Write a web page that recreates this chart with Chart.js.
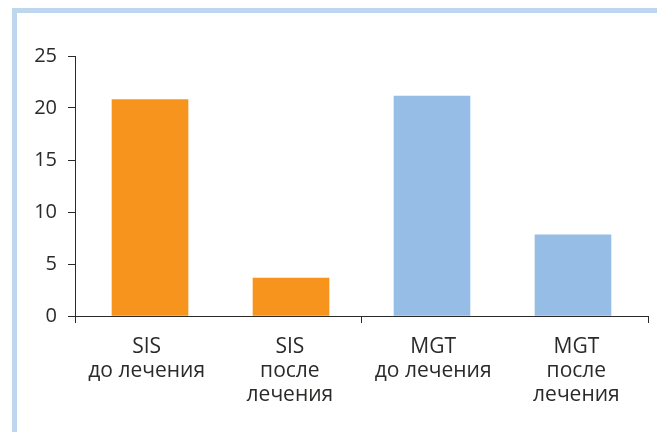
<!DOCTYPE html>
<html>
<head>
<meta charset="utf-8">
<script src="https://cdn.jsdelivr.net/npm/chart.js@4/dist/chart.umd.min.js"></script>
<style>
  html, body { margin: 0; padding: 0; background: #fff; }
  #frame {
    position: absolute; left: 12px; top: 8px;
    width: 640px; height: 419px;
    border-top: 5px solid #bdd7ee; border-left: 5px solid #bdd7ee;
  }
  canvas { display: block; }
</style>
</head>
<body>
<div id="frame"><canvas id="chart" width="640" height="419"></canvas></div>
<script>
  // values
  const categories = [
    ["SIS", "до лечения"],
    ["SIS", "после", "лечения"],
    ["MGT", "до лечения"],
    ["MGT", "после", "лечения"]
  ];
  const values = [20.8, 3.65, 21.15, 7.8];
  const barColors = ["#f7941d", "#f7941d", "#95bde5", "#95bde5"];
  const yTicks = [0, 5, 10, 15, 20, 25];

  const ink = "#2b2a29";
  const font = { family: "'Open Sans', sans-serif", size: 20 };

  new Chart(document.getElementById("chart"), {
    type: "bar",
    data: {
      labels: categories,
      datasets: [
        {
          xAxisID: "xb",
          data: values.map((v, i) => ({ x: i, y: v })),
          backgroundColor: barColors,
          borderWidth: 0,
          barThickness: 76,
        },
      ],
    },
    options: {
      responsive: false,
      animation: false,
      layout: { padding: { top: 43, right: 9, left: 0, bottom: 0 } },
      plugins: { legend: { display: false }, tooltip: { enabled: false } },
      scales: {
        // bars sit a little inside the drawn axis, so they use their own hidden axis
        xb: {
          type: "linear",
          display: false,
          offset: false,
          min: -0.532,
          max: 3.532,
        },
        x: {
          type: "category",
          offset: true,
          grid: {
            offset: true,
            drawOnChartArea: false,
            tickLength: 7,
            color: (ctx) => (ctx.index === 1 || ctx.index === 3 ? "rgba(0,0,0,0)" : ink),
          },
          border: { display: true, color: ink, width: 1 },
          ticks: { color: ink, font: { family: font.family, size: 21, lineHeight: 1.15 }, padding: 12, maxRotation: 0 },
          afterFit: (scale) => { scale.height = 116; },
        },
        y: {
          min: 0,
          max: 25,
          afterBuildTicks: (scale) => {
            scale.ticks = yTicks.map((v) => ({ value: v }));
          },
          grid: { drawOnChartArea: false, tickLength: 7, color: ink },
          border: { display: true, color: ink, width: 1 },
          ticks: { color: ink, font: font, padding: 11 },
          afterFit: (scale) => { scale.width = 58; },
        },
      },
    },
  });
</script>
</body>
</html>
